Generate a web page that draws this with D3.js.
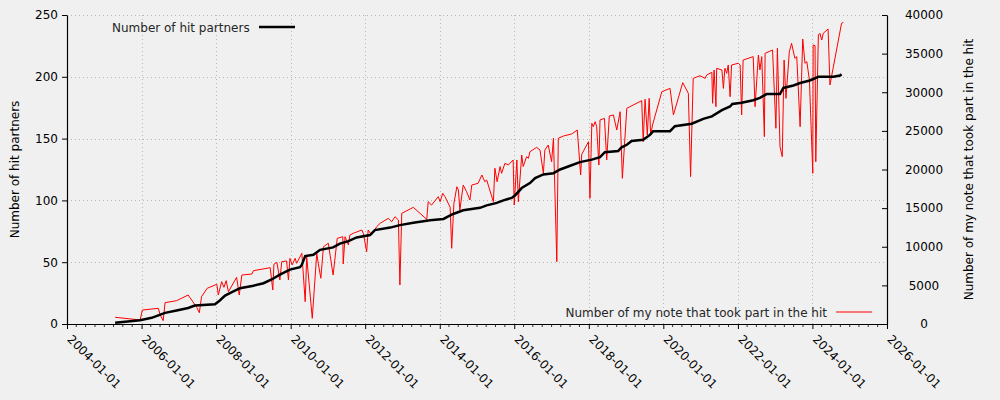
<html>
<head>
<script src="https://d3js.org/d3.v7.min.js"></script>
<style>
  body { margin: 0; background: #f0f0f0; }
  svg text { font-family: "DejaVu Sans", sans-serif; }
  .tick text { font-family: "DejaVu Sans", sans-serif; font-size: 12px; fill: #000; }
  .label { font-size: 12px; fill: #000; }
  .legend { font-size: 12px; fill: #262626; }
</style>
</head>
<body>
<svg width="1000" height="400"></svg>
<script>
// black line: cumulative hit partners (left axis), dates as decimal years
var partnerDates = [2005.29, 2005.96, 2006.27, 2006.45, 2006.63, 2006.94, 2007.25, 2007.43, 2007.97, 2008.10,
  2008.24, 2008.37, 2008.64, 2009.00, 2009.27, 2009.49, 2009.71, 2009.98, 2010.25, 2010.30,
  2010.39, 2010.61, 2010.79, 2011.14, 2011.32, 2011.55, 2011.77, 2012.13, 2012.26, 2012.67,
  2012.93, 2013.29, 2013.74, 2014.10, 2014.23, 2014.36, 2014.63, 2015.08, 2015.26, 2015.53,
  2015.71, 2015.93, 2016.02, 2016.20, 2016.42, 2016.56, 2016.78, 2017.05, 2017.23, 2017.50,
  2017.76, 2018.08, 2018.30, 2018.43, 2018.79, 2018.88, 2019.02, 2019.15, 2019.46, 2019.64,
  2019.73, 2020.18, 2020.31, 2020.76, 2021.07, 2021.30, 2021.57, 2021.79, 2021.85, 2022.10,
  2022.41, 2022.59, 2022.77, 2023.13, 2023.22, 2023.49, 2023.67, 2023.93, 2024.16, 2024.56,
  2024.74, 2024.78];
var partnerCounts = [1, 3, 5, 7, 9, 11, 13, 15, 16, 19,
  23, 25, 29, 31, 33, 36, 40, 44, 46, 48,
  55, 56, 60, 62, 65, 67, 70, 72, 76, 78,
  80, 82, 84, 85, 87, 89, 92, 94, 96, 98,
  100, 102, 104, 110, 114, 118, 121, 122, 125, 128,
  131, 133, 135, 139, 140, 143, 145, 148, 149, 153,
  156, 156, 160, 162, 166, 168, 173, 176, 178, 179,
  181, 183, 186, 186, 191, 193, 195, 197, 200, 200,
  201, 202];

// red line: my notes in the hit (right axis)
var noteDates = [2005.29, 2005.96, 2006.02, 2006.45, 2006.50, 2006.58, 2006.63, 2006.94, 2007.25, 2007.48,
  2007.55, 2007.61, 2007.76, 2008.02, 2008.06, 2008.15, 2008.21, 2008.27, 2008.33, 2008.55,
  2008.62, 2008.69, 2008.96, 2009.00, 2009.45, 2009.52, 2009.55, 2009.63, 2009.71, 2009.76,
  2009.89, 2009.94, 2009.98, 2010.04, 2010.12, 2010.16, 2010.30, 2010.39, 2010.43, 2010.58,
  2010.70, 2010.74, 2010.81, 2010.88, 2011.01, 2011.14, 2011.25, 2011.40, 2011.41, 2011.46,
  2011.55, 2011.59, 2011.68, 2011.91, 2011.95, 2012.04, 2012.08, 2012.17, 2012.31, 2012.40,
  2012.62, 2012.71, 2012.80, 2012.89, 2012.93, 2012.98, 2013.29, 2013.65, 2013.69, 2013.78,
  2013.96, 2014.01, 2014.08, 2014.14, 2014.28, 2014.32, 2014.38, 2014.46, 2014.50, 2014.54,
  2014.63, 2014.72, 2014.81, 2014.86, 2015.03, 2015.13, 2015.21, 2015.26, 2015.44, 2015.48,
  2015.54, 2015.62, 2015.66, 2015.75, 2015.84, 2015.97, 2016.00, 2016.07, 2016.11, 2016.20,
  2016.24, 2016.33, 2016.38, 2016.42, 2016.60, 2016.69, 2016.78, 2016.82, 2016.91, 2017.00,
  2017.05, 2017.14, 2017.18, 2017.32, 2017.54, 2017.69, 2017.78, 2017.81, 2017.99, 2018.03,
  2018.08, 2018.12, 2018.17, 2018.21, 2018.27, 2018.30, 2018.42, 2018.48, 2018.55, 2018.66,
  2018.75, 2018.84, 2018.90, 2019.02, 2019.42, 2019.46, 2019.51, 2019.57, 2019.62, 2019.66,
  2019.71, 2019.96, 2020.18, 2020.27, 2020.52, 2020.67, 2020.73, 2020.80, 2020.98, 2021.12,
  2021.16, 2021.30, 2021.32, 2021.36, 2021.41, 2021.43, 2021.57, 2021.61, 2021.65, 2021.70,
  2021.74, 2021.79, 2021.83, 2022.01, 2022.06, 2022.10, 2022.14, 2022.41, 2022.46, 2022.55,
  2022.59, 2022.64, 2022.71, 2022.73, 2022.93, 2023.02, 2023.06, 2023.13, 2023.19, 2023.24,
  2023.29, 2023.38, 2023.44, 2023.53, 2023.58, 2023.67, 2023.74, 2023.80, 2023.85, 2023.92,
  2024.01, 2024.02, 2024.07, 2024.09, 2024.16, 2024.20, 2024.25, 2024.29, 2024.42, 2024.47,
  2024.78, 2024.83];
var noteCounts = [870, 520, 1810, 2030, 1170, 430, 2760, 3020, 3750, 2160,
  1460, 3540, 4620, 5140, 3750, 5480, 4750, 5610, 4180, 6040,
  3750, 6340, 6470, 6900, 7290, 4400, 7730, 7990, 5700, 8070,
  8160, 5700, 8500, 7640, 8500, 7860, 9150, 2890, 8710, 740,
  9150, 7860, 5920, 10000, 10450, 6340, 11090, 11300, 7770, 11300,
  10230, 11520, 11740, 12170, 11740, 9360, 12170, 11520, 12600, 13030,
  13680, 13240, 13890, 13460, 5050, 14330, 15100, 13550, 15830, 15400,
  16480, 15830, 16920, 16480, 15100, 9800, 15620, 17770, 17350, 14760,
  17990, 17130, 16050, 17990, 18210, 19290, 18420, 18640, 15830, 20160,
  18420, 20380, 19510, 20800, 20580, 21230, 15400, 21230, 15830, 21880,
  20380, 21660, 21450, 22300, 22870, 22520, 19510, 22520, 23170, 21010,
  24040, 8070, 24040, 24340, 24600, 25110, 19290, 21970, 23600, 16270,
  25980, 25540, 26190, 25540, 20580, 26410, 26620, 21230, 26930, 27060,
  25110, 27480, 18860, 27920, 28910, 23600, 29090, 24470, 29210, 24470,
  25760, 30070, 30500, 27060, 31240, 29860, 19070, 31800, 32140, 31800,
  32230, 32580, 28570, 32880, 28130, 33100, 32880, 30500, 33100, 32450,
  33530, 29420, 33530, 33750, 33530, 27060, 34170, 34610, 28130, 34820,
  32880, 34610, 24250, 35040, 35470, 25330, 35690, 22950, 21660, 34170,
  29210, 35250, 36330, 34390, 34610, 25540, 36890, 33750, 33960, 31580,
  19510, 36120, 36030, 21010, 37410, 37630, 36760, 37630, 38190, 30940,
  38920, 39050];

var leftTicks = [0, 50, 100, 150, 200, 250];
var rightTicks = [0, 5000, 10000, 15000, 20000, 25000, 30000, 35000, 40000];
var leftTitle = "Number of hit partners";
var rightTitle = "Number of my note that took part in the hit";

var pLeft = 67, pRight = 887, pTop = 15, pBottom = 324;

function toDate(y) {
  var yr = Math.floor(y);
  var s = new Date(yr, 0, 1), e = new Date(yr + 1, 0, 1);
  return new Date(+s + (y - yr) * (e - s));
}

var svg = d3.select("svg");
svg.append("rect").attr("width", 1000).attr("height", 400).attr("fill", "#f0f0f0");

var x = d3.scaleTime().domain([new Date(2004, 0, 1), new Date(2026, 0, 1)]).range([pLeft, pRight]);
var yL = d3.scaleLinear().domain([0, 250]).range([pBottom, pTop]);
var yR = d3.scaleLinear().domain([0, 40000]).range([pBottom, pTop]);

var majors = x.ticks(d3.timeYear.every(2));
var minors = x.ticks(d3.timeMonth.every(3)).filter(d => !(d.getMonth() == 0 && d.getFullYear() % 2 == 0));

// grid
var grid = svg.append("g").attr("stroke", "#a8a8a8").attr("stroke-width", 0.8).attr("stroke-dasharray", "1,3");
grid.selectAll(".h").data(leftTicks).enter().append("line")
  .attr("x1", pLeft).attr("x2", pRight)
  .attr("y1", d => Math.round(yL(d)) + 0.5).attr("y2", d => Math.round(yL(d)) + 0.5);
grid.selectAll(".v").data(majors).enter().append("line")
  .attr("x1", d => Math.round(x(d)) + 0.5).attr("x2", d => Math.round(x(d)) + 0.5)
  .attr("y1", pTop).attr("y2", pBottom);

// lines
var noteData = noteDates.map((d, i) => [toDate(d), noteCounts[i]]);
var partnerData = partnerDates.map((d, i) => [toDate(d), partnerCounts[i]]);

svg.append("path").datum(noteData)
  .attr("fill", "none").attr("stroke", "red").attr("stroke-width", 1)
  .attr("d", d3.line().x(d => x(d[0])).y(d => yR(d[1])));

svg.append("path").datum(partnerData)
  .attr("fill", "none").attr("stroke", "black").attr("stroke-width", 2.5)
  .attr("d", d3.line().x(d => x(d[0])).y(d => yL(d[1])));

// bottom axis
var fmt = d3.timeFormat("%Y-%m-%d");
var xAxis = svg.append("g").attr("transform", "translate(0," + pBottom + ")")
  .call(d3.axisBottom(x).tickValues(majors).tickFormat(fmt).tickSize(5).tickSizeOuter(0));
xAxis.selectAll(".tick text")
  .attr("x", 0).attr("y", 0).attr("dy", 0)
  .attr("text-anchor", "start")
  .attr("transform", "translate(-1,16) rotate(45)");
svg.append("g").selectAll("line").data(minors).enter().append("line")
  .attr("x1", d => x(d)).attr("x2", d => x(d))
  .attr("y1", pBottom).attr("y2", pBottom + 3)
  .attr("stroke", "black").attr("stroke-width", 0.8);

// left axis
svg.append("g").attr("transform", "translate(" + pLeft + ",0)")
  .call(d3.axisLeft(yL).tickValues(leftTicks).tickSize(5).tickPadding(4).tickSizeOuter(0));

// right axis, ticks pointing inward, labels centred
var rAxis = svg.append("g").attr("transform", "translate(" + pRight + ",0)")
  .call(d3.axisRight(yR).tickValues(rightTicks).tickFormat(d3.format("d"))
    .tickSize(-5).tickPadding(37).tickSizeOuter(0));
rAxis.selectAll(".tick text").attr("text-anchor", "middle");

svg.selectAll(".domain").attr("stroke", "black").attr("stroke-width", 1.2);

// axis titles
svg.append("text").attr("class", "label")
  .attr("transform", "translate(19," + ((pTop + pBottom) / 2) + ") rotate(-90)")
  .attr("text-anchor", "middle").text(leftTitle);
svg.append("text").attr("class", "label")
  .attr("transform", "translate(973," + ((pTop + pBottom) / 2) + ") rotate(-90)")
  .attr("text-anchor", "middle").text(rightTitle);

// legends
svg.append("text").attr("class", "legend").attr("x", 112).attr("y", 32).text(leftTitle);
svg.append("line").attr("x1", 259).attr("x2", 295).attr("y1", 27).attr("y2", 27)
  .attr("stroke", "black").attr("stroke-width", 2.5);
svg.append("text").attr("class", "legend").attr("x", 827).attr("y", 317)
  .attr("text-anchor", "end").text(rightTitle);
svg.append("line").attr("x1", 836).attr("x2", 872).attr("y1", 312).attr("y2", 312)
  .attr("stroke", "red").attr("stroke-width", 1);
</script>
</body>
</html>
